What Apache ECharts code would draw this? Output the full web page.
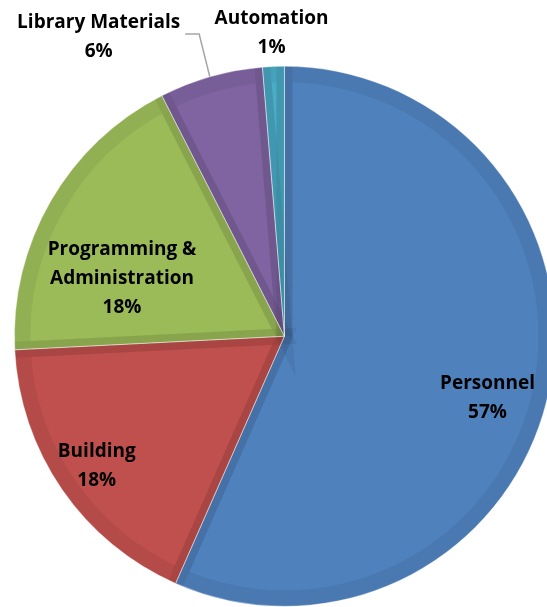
<!DOCTYPE html>
<html>
<head>
<meta charset="utf-8">
<script src="https://cdn.jsdelivr.net/npm/echarts@6/dist/echarts.min.js"></script>
<style>html,body{margin:0;padding:0;background:#fff}#c{width:547px;height:607px}</style>
</head>
<body>
<div id="c"></div>
<script>
const categories = ['Personnel', 'Building', 'Programming &\nAdministration', 'Library Materials', 'Automation'];
const values = [56.6, 17.6, 18.3, 6.2, 1.3];
const colors = ['#4F81BD', '#C0504D', '#9BBB59', '#8064A2', '#4BACC6'];

const labelOffsets = [[68, 33], [-74, 52], [-43, 11], [10, -53], [13, 3]];
const outsideSet = { 3: true, 4: true };

const chart = echarts.init(document.getElementById('c'), null, { renderer: 'canvas' });
const center = ['52%', '55.4%'];
const base = { type: 'pie', center: center, startAngle: 90, animation: false };

chart.setOption({
  animation: false,
  series: [
    Object.assign({}, base, {
      silent: true, radius: 270,
      data: categories.map((n, i) => ({ name: n, value: values[i], itemStyle: { color: colors[i] } })),
      label: { show: false }, labelLine: { show: false }
    }),
    Object.assign({}, base, {
      silent: true, radius: 262, z: 3,
      itemStyle: { color: 'rgba(0,0,0,0)', borderColor: 'rgba(0,0,0,0.06)', borderWidth: 16, borderJoin: 'miter' },
      data: categories.map((n, i) => ({ name: n, value: values[i] })),
      label: { show: false }, labelLine: { show: false }
    }),
    Object.assign({}, base, {
      silent: true, radius: 270, z: 4,
      itemStyle: { color: 'rgba(0,0,0,0)', borderColor: 'rgba(255,255,255,0.35)', borderWidth: 1 },
      data: categories.map((n, i) => ({ name: n, value: values[i] })),
      label: { show: false }, labelLine: { show: false }
    }),
    Object.assign({}, base, {
      radius: 270, z: 5, percentPrecision: 0,
      itemStyle: { color: 'rgba(0,0,0,0)', borderWidth: 0 },
      emphasis: { disabled: true },
      label: {
        formatter: '{b}\n{d}%', fontFamily: 'Open Sans', fontWeight: 'bold', fontSize: 19,
        lineHeight: 29, color: '#000', align: 'center', overflow: 'none'
      },
      labelLine: { length: 45, length2: 8, lineStyle: { color: '#a6a6a6', width: 1.5 } },
      labelLayout: function (p) {
        const o = labelOffsets[p.dataIndex];
        const res = { dx: o[0], dy: o[1], align: 'center' };
        if (p.dataIndex === 3 && p.labelLinePoints) {
          const r = p.labelRect;
          const newRight = r.x + r.width * 1.5 + o[0];
          const lineY = r.y + r.height / 2 + o[1] - 3;
          const start = p.labelLinePoints[0];
          res.labelLinePoints = [
            [start[0] - 1, start[1]],
            [newRight + 19, lineY],
            [newRight + 5, lineY]
          ];
        }
        return res;
      },
      data: categories.map((n, i) => ({
        name: n, value: values[i],
        label: { position: outsideSet[i] ? 'outside' : 'inside' },
        labelLine: { show: i === 3 }
      }))
    })
  ]
});
</script>
</body>
</html>
